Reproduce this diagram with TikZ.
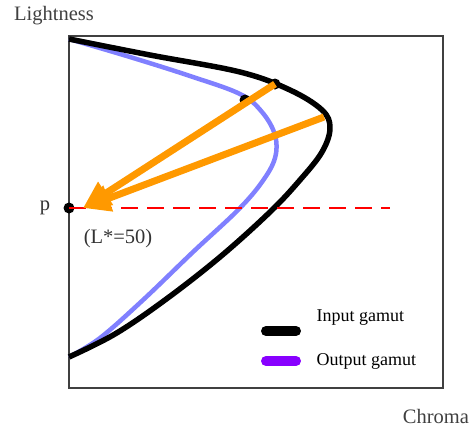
\documentclass[tikz,border=0pt]{standalone}
\usepackage{fontspec}
\setmainfont{Liberation Serif}
\usetikzlibrary{arrows.meta}
\definecolor{outblue}{RGB}{128,128,255}
\definecolor{arrorange}{RGB}{255,153,0}
\definecolor{legpurple}{RGB}{136,0,255}
\tikzset{
  gamutin/.style={line width=5.5pt, black, line join=round},
  gamutout/.style={line width=4.5pt, outblue, line join=round},
  dot/.style={circle, fill=black, inner sep=0pt, minimum size=11pt},
  mapto/.style={line width=7pt, arrorange, -{Triangle[length=27pt,width=26pt]}},
  axislabel/.style={font=\fontsize{20.5}{24}\selectfont, text=black!75},
  legtext/.style={font=\fontsize{18}{22}\selectfont, anchor=west}
}
\begin{document}
\begin{tikzpicture}[x=1pt,y=-1pt]
\useasboundingbox (0,0) rectangle (475,429);
\draw[line width=1.2pt, black!75] (69,36) rectangle (443,388);
\node[axislabel] (ylab) at (54,16) {Lightness};
\node[axislabel] (xlab) at (436,416) {Chroma};
% output gamut
\draw[gamutout] plot[smooth, tension=0.6] coordinates {(69,39) (130,57) (190,76) (240,94) (262,112) (275,135) (275,158) (262,182) (238,210) (193,252) (143,300) (100,338) (69,357)};
% input gamut
\draw[gamutin] plot[smooth, tension=0.6] coordinates {(69,39) (150,55) (240,72) (290,90) (322,110) (330,128) (322,152) (300,180) (270,212) (220,257) (165,300) (115,334) (69,357)};
% red dashed line
\node[dot] (p) at (69,208) {};
\coordinate (dashend) at (390,208);
\draw[red, line width=2.4pt, dash pattern=on 17pt off 9pt] (p.center) -- (dashend);
\node[dot] (a) at (275,84) {};
\node[dot] (b) at (245,100) {};
\coordinate (c) at (324,117);
\coordinate (tip) at (83,208);
\draw[mapto] (a.center) -- (tip);
\draw[mapto] (c) -- (tip);
\node[font=\fontsize{20.5}{24}\selectfont, text=black!80] (plab) at (45,208) {p};
\node[font=\fontsize{20.5}{24}\selectfont, text=black!80] (llab) at (118,239) {(L*=50)};
% legend
\coordinate (l1a) at (266,331); \coordinate (l1b) at (296,331);
\coordinate (l2a) at (266,361); \coordinate (l2b) at (296,361);
\draw[line width=10pt, line cap=round, black] (l1a) -- (l1b);
\draw[line width=10pt, line cap=round, legpurple] (l2a) -- (l2b);
\node[legtext] (in) at (313,318) {Input gamut};
\node[legtext] (out) at (313,361) {Output gamut};
\end{tikzpicture}
\end{document}
